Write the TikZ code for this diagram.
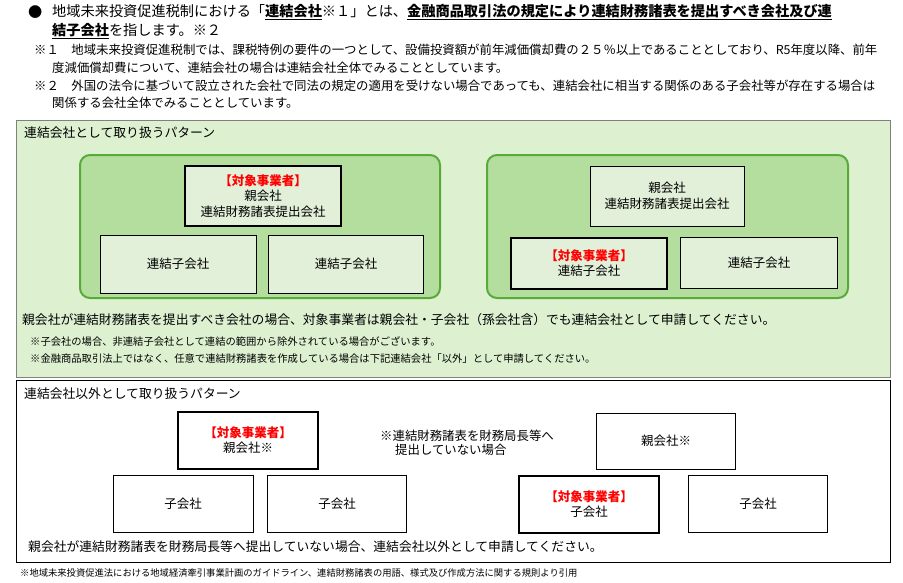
\documentclass[tikz,border=0pt]{standalone}
\usepackage{fontspec}
\setmainfont{Noto Sans CJK JP}
\usepackage{tikz}
\usetikzlibrary{positioning}
\definecolor{bgreen}{HTML}{DDF1D1}
\definecolor{ggreen}{HTML}{B3DE9E}
\definecolor{lgreen}{HTML}{E2F0D9}
\definecolor{gborder}{HTML}{5AAA3A}
\definecolor{tred}{HTML}{FF0000}
\begin{document}
\begin{tikzpicture}
		[
			x=1pt, y=-1pt,
			align=center,
			txt/.style={anchor=west, inner sep=0pt, font=\fontsize{12.8}{14}\selectfont},
			head/.style={anchor=west, inner sep=0pt, font=\fontsize{14.2}{16}\selectfont},
			note/.style={anchor=west, inner sep=0pt, font=\fontsize{12.4}{14}\selectfont},
			small/.style={anchor=west, inner sep=0pt, font=\fontsize{10.3}{12}\selectfont},
			group/.style={draw=gborder, line width=2pt, fill=ggreen, rounded corners=10pt},
			company/.style={draw=black, thin, fill=lgreen, font=\fontsize{12.5}{15.5}\selectfont},
			target/.style={company, line width=2pt},
			plain/.style={draw=black, thin, fill=white, font=\fontsize{12.5}{15.5}\selectfont},
			ptarget/.style={plain, line width=2pt}
		]
		\useasboundingbox (0,0) rectangle (903,582);

		% header notes
		\node[head] (bul) at (28,12) {●};
		\node[head] (head1) at (52,12) {地域未来投資促進税制における「\textbf{\underline{連結会社}}※１」とは、\textbf{\underline{金融商品取引法の規定により連結財務諸表を提出すべき会社及び連}}};
		\node[head] (head2) at (52,31) {\textbf{\underline{結子会社}}を指します。※２};
		\node[note] (n1a) at (34,50) {※１　地域未来投資促進税制では、課税特例の要件の一つとして、設備投資額が前年減価償却費の２５％以上であることとしており、R5年度以降、前年};
		\node[note] (n1b) at (52,68) {度減価償却費について、連結会社の場合は連結会社全体でみることとしています。};
		\node[note] (n2a) at (34,86) {※２　外国の法令に基づいて設立された会社で同法の規定の適用を受けない場合であっても、連結会社に相当する関係のある子会社等が存在する場合は};
		\node[note] (n2b) at (52,103) {関係する会社全体でみることとしています。};

		% consolidated pattern
		\draw[gray, fill=bgreen] (16,120) rectangle (890,377);
		\node[txt] (t1) at (24,133) {連結会社として取り扱うパターン};
		\draw[group] (80,155) rectangle (440,298);
		\draw[group] (487,155) rectangle (848,298);

		\node[target, minimum width=156, minimum height=60] (a1) at (263,196) {\textcolor{tred}{\textbf{【対象事業者】}}\\親会社\\連結財務諸表提出会社};
		\node[company, minimum width=156, minimum height=58] (a2) at (178,264) {連結子会社};
		\node[company, minimum width=155, minimum height=58] (a3) at (346,264) {連結子会社};

		\node[company, minimum width=154, minimum height=60] (b1) at (667,196) {親会社\\連結財務諸表提出会社};
		\node[target, minimum width=156, minimum height=51] (b2) at (589,263) {\textcolor{tred}{\textbf{【対象事業者】}}\\連結子会社};
		\node[company, minimum width=157, minimum height=51] (b3) at (759,263) {連結子会社};

		\node[txt] (c1) at (22,320) {親会社が連結財務諸表を提出すべき会社の場合、対象事業者は親会社・子会社（孫会社含）でも連結会社として申請してください。};
		\node[small] (c2) at (30,342) {※子会社の場合、非連結子会社として連結の範囲から除外されている場合がございます。};
		\node[small] (c3) at (30,359) {※金融商品取引法上ではなく、任意で連結財務諸表を作成している場合は下記連結会社「以外」として申請してください。};

		% non-consolidated pattern
		\draw[black, fill=white] (16,380) rectangle (890,562);
		\node[txt] (t2) at (24,394) {連結会社以外として取り扱うパターン};
		\node[ptarget, minimum width=140, minimum height=57] (p1) at (248,440) {\textcolor{tred}{\textbf{【対象事業者】}}\\親会社※};
		\node[plain, minimum width=140, minimum height=57] (p2) at (183,504) {子会社};
		\node[plain, minimum width=139, minimum height=57] (p3) at (337,504) {子会社};
		\node[note, align=left] (q0) at (380,443) {※連結財務諸表を財務局長等へ\\\hspace{15pt}提出していない場合};
		\node[plain, minimum width=139, minimum height=56] (q1) at (666,441) {親会社※};
		\node[ptarget, minimum width=140, minimum height=57] (q2) at (589,504) {\textcolor{tred}{\textbf{【対象事業者】}}\\子会社};
		\node[plain, minimum width=139, minimum height=57] (q3) at (758,504) {子会社};
		\node[txt] (d1) at (28,547) {親会社が連結財務諸表を財務局長等へ提出していない場合、連結会社以外として申請してください。};

		% source
		\node[small, font=\fontsize{9.3}{11}\selectfont] (src) at (20,573) {※地域未来投資促進法における地域経済牽引事業計画のガイドライン、連結財務諸表の用語、様式及び作成方法に関する規則より引用};
	\end{tikzpicture}
\end{document}
